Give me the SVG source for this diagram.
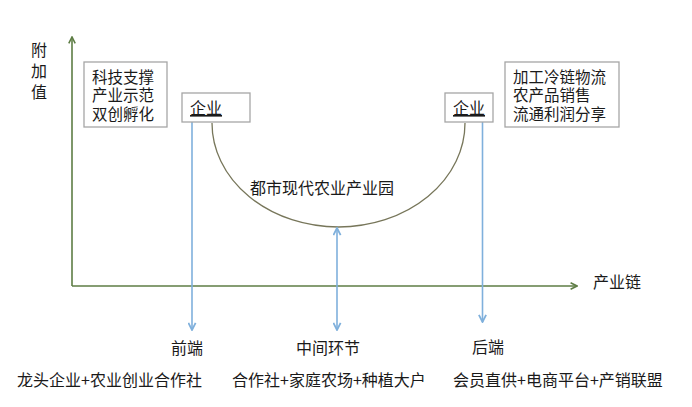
<svg xmlns="http://www.w3.org/2000/svg" width="692" height="407" viewBox="0 0 692 407">
<defs>
<style>
text{font-family:"Noto Sans CJK SC","Microsoft YaHei",sans-serif;fill:#1a1a1a;font-size:16px}
.lines text{font-size:15.5px}
.box{fill:#fff;stroke:#a6a6a6;stroke-width:1.3}
.axis{stroke:#5e7d45;stroke-width:1.6;fill:none}
.blue{stroke:#7fb0dc;stroke-width:1.6;fill:none}
.curve{stroke:#77765a;stroke-width:1.3;fill:none}
.u{text-decoration:underline}
</style>
<marker id="ag" viewBox="0 0 10 10" refX="9" refY="5" markerWidth="8" markerHeight="8" markerUnits="userSpaceOnUse" orient="auto-start-reverse">
<path d="M1,1 L9,5 L1,9" fill="none" stroke="#5e7d45" stroke-width="2"/>
</marker>
<marker id="ab" viewBox="0 0 10 10" refX="9" refY="5" markerWidth="9" markerHeight="9" markerUnits="userSpaceOnUse" orient="auto-start-reverse">
<path d="M1,1 L9,5 L1,9" fill="none" stroke="#7fb0dc" stroke-width="2"/>
</marker>
</defs>
<rect width="692" height="407" fill="#fff"/>
<g id="axes">
<line class="axis" x1="72" y1="286" x2="72" y2="37" marker-end="url(#ag)"/>
<line class="axis" x1="72" y1="286" x2="577" y2="286" marker-end="url(#ag)"/>
<text x="39" y="56" text-anchor="middle" font-size="18"><tspan x="39" y="56">附</tspan><tspan x="39" y="77">加</tspan><tspan x="39" y="98">值</tspan></text>
<text x="593" y="288" font-size="18">产业链</text>
</g>
<g id="connectors">
<path class="curve" d="M212,123 A126.5,104 0 0 0 465,123"/>
<line class="blue" x1="192" y1="122" x2="192" y2="330" marker-end="url(#ab)"/>
<line class="blue" x1="482.5" y1="122" x2="482.5" y2="322" marker-end="url(#ab)"/>
<line class="blue" x1="337" y1="228" x2="337" y2="330" marker-start="url(#ab)" marker-end="url(#ab)"/>
</g>
<g id="left-box" class="lines">
<rect class="box" x="84" y="62" width="83" height="65"/>
<text x="92" y="82.5"><tspan x="92" y="82.5">科技支撑</tspan><tspan x="92" y="101">产业示范</tspan><tspan x="92" y="119.5">双创孵化</tspan></text>
</g>
<g id="right-box" class="lines">
<rect class="box" x="505" y="62" width="114" height="65"/>
<text x="513" y="82.5"><tspan x="513" y="82.5">加工冷链物流</tspan><tspan x="513" y="101">农产品销售</tspan><tspan x="513" y="119.5">流通利润分享</tspan></text>
</g>
<g id="enterprise-left">
<rect class="box" x="182" y="93" width="68" height="29"/>
<text class="u" x="190" y="114">企业</text>
</g>
<g id="enterprise-right">
<rect class="box" x="445" y="93" width="48" height="29"/>
<text class="u" x="453" y="114">企业</text>
</g>
<g id="park">
<text x="250" y="194">都市现代农业产业园</text>
</g>
<g id="front">
<text x="187" y="354" text-anchor="middle" font-size="15">前端</text>
<text x="17" y="386">龙头企业+农业创业合作社</text>
</g>
<g id="middle">
<text x="328" y="354" text-anchor="middle" font-size="15">中间环节</text>
<text x="232" y="386">合作社+家庭农场+种植大户</text>
</g>
<g id="back">
<text x="488" y="353" text-anchor="middle" font-size="15">后端</text>
<text x="453" y="386">会员直供+电商平台+产销联盟</text>
</g>
</svg>
